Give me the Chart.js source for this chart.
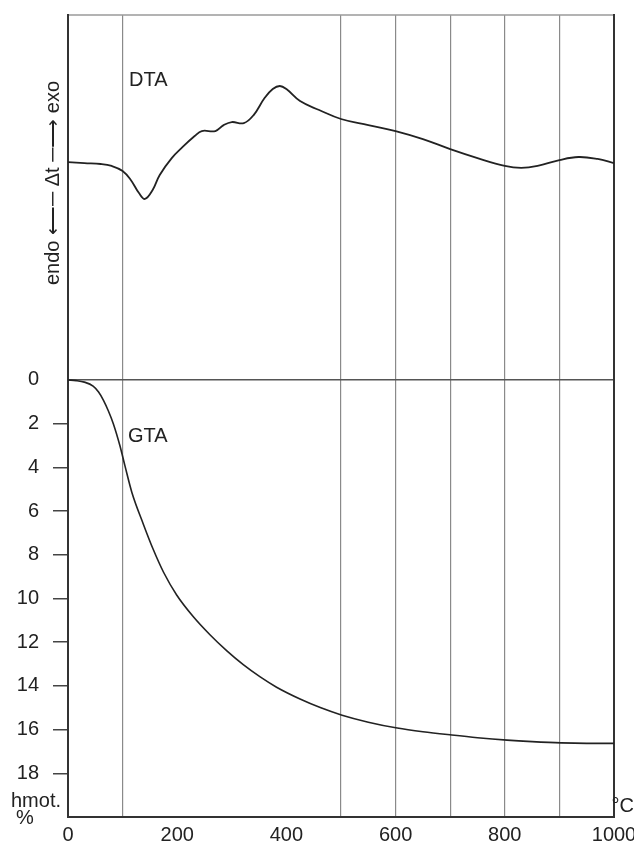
<!DOCTYPE html>
<html>
<head>
<meta charset="utf-8">
<script src="https://cdn.jsdelivr.net/npm/chart.js@4.4.1/dist/chart.umd.min.js"></script>
<style>
  html, body { margin: 0; padding: 0; background: #fff; }
  #wrap { position: relative; width: 634px; height: 841px; }
</style>
</head>
<body>
<div id="wrap"><canvas id="chart" width="634" height="841"></canvas></div>
<script>
// Temperature axis (°C)
const xTicks = [0, 200, 400, 600, 800, 1000];
const gridTemps = [100, 500, 600, 700, 800, 900];

// Mass loss axis (hmot. %)
const lossTicks = [0, 2, 4, 6, 8, 10, 12, 14, 16, 18];

// DTA curve, Δt in arbitrary units (positive = exo)
const dtaTemp = [0, 30, 60, 80, 100, 115, 130, 141, 155, 168, 190, 210, 232, 245, 270, 285, 300, 322, 340, 360, 375, 388, 400, 425, 460, 500, 550, 600, 650, 700, 750, 800, 830, 860, 900, 935, 970, 1000];
const dtaValues = [0, -0.05, -0.09, -0.18, -0.41, -0.82, -1.42, -1.69, -1.28, -0.59, 0.18, 0.69, 1.19, 1.42, 1.42, 1.69, 1.83, 1.78, 2.15, 2.93, 3.34, 3.48, 3.34, 2.79, 2.38, 1.97, 1.69, 1.42, 1.05, 0.59, 0.18, -0.18, -0.27, -0.18, 0.09, 0.23, 0.14, -0.05];

// GTA curve, mass loss in %
const gtaTemp = [0, 15, 30, 46, 56, 65, 74, 83, 95, 104, 117, 138, 156, 175, 199, 230, 260, 291, 321, 352, 382, 425, 462, 502, 550, 603, 650, 703, 750, 804, 850, 903, 950, 1000];
const gtaLoss = [0, 0.03, 0.1, 0.28, 0.55, 0.93, 1.42, 2.0, 3.0, 3.9, 5.15, 6.6, 7.75, 8.8, 9.84, 10.85, 11.66, 12.4, 13.03, 13.59, 14.06, 14.6, 14.99, 15.34, 15.66, 15.93, 16.1, 16.25, 16.37, 16.48, 16.55, 16.61, 16.63, 16.63];

const FONT = "'Liberation Sans', Arial, sans-serif";
const INK = '#222';

function toPoints(xs, ys) {
  return xs.map((x, i) => ({ x: x, y: ys[i] }));
}

// Frame around the plot area plus the free text annotations
const framePlugin = {
  id: 'frame',
  beforeDatasetsDraw(chart) {
    const { ctx, chartArea: a } = chart;
    ctx.save();
    ctx.lineCap = 'square';
    ctx.strokeStyle = '#9a9a9a';
    ctx.lineWidth = 1.5;
    ctx.beginPath();
    ctx.moveTo(a.left, a.top);
    ctx.lineTo(a.right, a.top);
    ctx.stroke();
    ctx.strokeStyle = '#333';
    ctx.lineWidth = 2;
    ctx.beginPath();
    ctx.moveTo(a.right, a.top);
    ctx.lineTo(a.right, a.bottom);
    ctx.lineTo(a.left, a.bottom);
    ctx.lineTo(a.left, a.top);
    ctx.stroke();
    ctx.restore();
  },
  afterDraw(chart) {
    const ctx = chart.ctx;
    ctx.save();
    ctx.fillStyle = INK;
    ctx.font = '20px ' + FONT;
    ctx.textBaseline = 'alphabetic';
    ctx.textAlign = 'left';
    ctx.fillText('DTA', 129, 86);
    ctx.fillText('GTA', 128, 442);
    ctx.textAlign = 'center';
    ctx.fillText('hmot.', 36, 807);
    ctx.fillText('%', 25, 824);
    ctx.textAlign = 'right';
    ctx.fillText('°C', 634, 812);
    ctx.textAlign = 'center';
    ctx.translate(59, 183);
    ctx.rotate(-Math.PI / 2);
    ctx.fillText('endo \u27F5\u2500 \u0394t \u2500\u27F6 exo', 0, 0);
    ctx.restore();
  }
};

new Chart(document.getElementById('chart'), {
  type: 'line',
  data: {
    datasets: [
      {
        label: 'DTA',
        data: toPoints(dtaTemp, dtaValues),
        xAxisID: 'x',
        yAxisID: 'dta',
        borderColor: INK,
        borderWidth: 1.8,
        pointRadius: 0,
        tension: 0.4,
        fill: false,
      },
      {
        label: 'GTA',
        data: toPoints(gtaTemp, gtaLoss),
        xAxisID: 'x',
        yAxisID: 'y',
        borderColor: INK,
        borderWidth: 1.6,
        pointRadius: 0,
        cubicInterpolationMode: 'monotone',
        fill: false,
      },
    ],
  },
  options: {
    responsive: false,
    animation: false,
    devicePixelRatio: 1,
    layout: { padding: { top: 15, right: 20, left: 0, bottom: 0 } },
    plugins: {
      legend: { display: false },
      tooltip: { enabled: false },
    },
    scales: {
      x: {
        type: 'linear',
        position: 'bottom',
        min: 0,
        max: 1000,
        afterBuildTicks: s => { s.ticks = xTicks.map(v => ({ value: v })); },
        afterFit: s => { s.height = 24; s.paddingLeft = 0; s.paddingRight = 0; },
        ticks: {
          color: INK,
          font: { family: FONT, size: 20 },
          padding: 6,
          maxRotation: 0,
          autoSkip: false,
          callback: v => String(v),
        },
        grid: { display: false, drawTicks: false },
        border: { display: false },
      },
      xGrid: {
        type: 'linear',
        position: 'top',
        min: 0,
        max: 1000,
        afterBuildTicks: s => { s.ticks = gridTemps.map(v => ({ value: v })); },
        afterFit: s => { s.height = 0; s.paddingLeft = 0; s.paddingRight = 0; },
        ticks: { display: false },
        grid: { color: '#8a8a8a', lineWidth: 1.2, drawTicks: false },
        border: { display: false },
      },
      y: {
        type: 'linear',
        position: 'left',
        reverse: true,
        min: -16.7,
        max: 20,
        afterBuildTicks: s => { s.ticks = lossTicks.map(v => ({ value: v })); },
        afterFit: s => { s.width = 68; s.paddingTop = 0; s.paddingBottom = 0; },
        ticks: {
          color: INK,
          font: { family: FONT, size: 20 },
          padding: 14,
        },
        grid: {
          color: c => (c.tick && c.tick.value === 0 ? '#555' : 'rgba(0,0,0,0)'),
          tickColor: c => (c.tick && c.tick.value === 0 ? 'rgba(0,0,0,0)' : '#444'),
          lineWidth: 1.5,
          tickLength: 15,
        },
        border: { display: false },
      },
      dta: {
        type: 'linear',
        display: false,
        min: -29.98,
        max: 6.73,
      },
    },
  },
  plugins: [framePlugin],
});
</script>
</body>
</html>
